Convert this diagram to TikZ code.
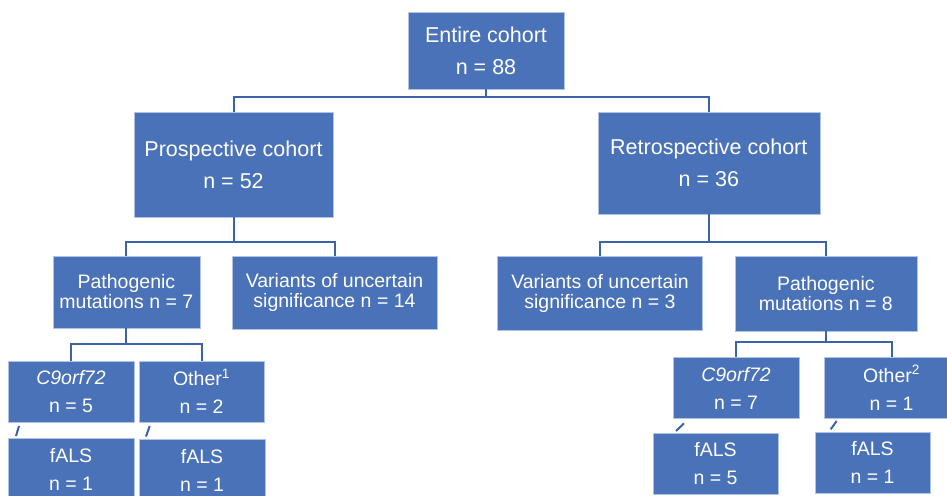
\documentclass[tikz,border=0pt]{standalone}
\usepackage{fontspec}
\setmainfont{Liberation Sans}
\definecolor{boxblue}{RGB}{74,114,184}
\definecolor{lineblue}{RGB}{60,98,168}
\definecolor{edgeblue}{RGB}{175,195,228}
\tikzset{
  anybox/.style={rectangle, fill=boxblue, draw=edgeblue, line width=0.6pt, text=white, align=center, inner sep=0pt},
  bigbox/.style={anybox, font=\fontsize{21.5}{32}\selectfont},
  midbox/.style={anybox, font=\fontsize{19.5}{20}\selectfont},
  smallbox/.style={anybox, font=\fontsize{19.5}{28}\selectfont},
  conn/.style={draw=lineblue, line width=2pt},
}
\begin{document}
\begin{tikzpicture}[x=1pt,y=-1pt]
\useasboundingbox (0,0) rectangle (947,495);
\begin{scope}
\clip (0,0) rectangle (947,495);
% level 0
\node[bigbox, minimum width=156pt, minimum height=77pt] (entire) at (486,50.5) {Entire cohort\\n = 88};
% level 1
\node[bigbox, minimum width=199pt, minimum height=105pt] (prosp) at (233.5,164.5) {Prospective cohort\\n = 52};
\node[bigbox, minimum width=222pt, minimum height=102pt] (retro) at (708.8,163) {Retrospective cohort\\n = 36};
% level 2
\node[midbox, minimum width=147pt, minimum height=72pt] (pathL) at (126.4,292) {Pathogenic\\mutations n = 7};
\node[midbox, minimum width=205pt, minimum height=73pt] (vusL) at (334.5,292.5) {Variants of uncertain\\significance n = 14};
\node[midbox, minimum width=205pt, minimum height=74pt] (vusR) at (600,293) {Variants of uncertain\\significance n = 3};
\node[midbox, minimum width=182pt, minimum height=75pt] (pathR) at (825.8,293.5) {Pathogenic\\mutations n = 8};
% level 3
\node[smallbox, minimum width=126pt, minimum height=61pt] (c9L) at (71,391.5) {\itshape C9orf72\\n = 5};
\node[smallbox, minimum width=125pt, minimum height=61pt] (othL) at (201.5,391.5) {Other\textsuperscript{1}\\n = 2};
\node[smallbox, minimum width=126pt, minimum height=61pt] (c9R) at (736,388) {\itshape C9orf72\\n = 7};
\node[smallbox, minimum width=135pt, minimum height=61pt] (othR) at (891.5,387.5) {Other\textsuperscript{2}\\n = 1};
% level 4
\node[smallbox, minimum width=126pt, minimum height=62pt] (falsL1) at (71,469) {fALS\\n = 1};
\node[smallbox, minimum width=126pt, minimum height=62pt] (falsL2) at (202,470) {fALS\\n = 1};
\node[smallbox, minimum width=125pt, minimum height=61pt] (falsR1) at (715.5,463.5) {fALS\\n = 5};
\node[smallbox, minimum width=115pt, minimum height=61pt] (falsR2) at (872.5,462.5) {fALS\\n = 1};
% junctions
\coordinate (j0) at (486,97);
\coordinate (j1) at (233.5,241.7);
\coordinate (j2) at (708.8,241.7);
\coordinate (j3) at (126.4,344);
\coordinate (j4) at (825.8,341.7);
\draw[conn] (entire.south) -- (j0) -| (prosp.north);
\draw[conn] (j0) -| (retro.north);
\draw[conn] (prosp.south) -- (j1) -| (pathL.north);
\draw[conn] (j1) -| (vusL.north);
\draw[conn] (retro.south) -- (j2) -| (vusR.north);
\draw[conn] (j2) -| (pathR.north);
\draw[conn] (pathL.south) -- (j3) -| (c9L.north);
\draw[conn] (j3) -| (othL.north);
\draw[conn] (pathR.south) -- (j4) -| (c9R.north);
\draw[conn] (j4) -| (othR.north);
% short stray connector stubs
\coordinate (s1a) at (16,436);   \coordinate (s1b) at (19,426);
\coordinate (s2a) at (146,436.5); \coordinate (s2b) at (149.7,426);
\coordinate (s3a) at (676,431);  \coordinate (s3b) at (684,423.3);
\coordinate (s4a) at (830.7,429.3); \coordinate (s4b) at (836.7,421);
\draw[conn] (s1a) -- (s1b);
\draw[conn] (s2a) -- (s2b);
\draw[conn] (s3a) -- (s3b);
\draw[conn] (s4a) -- (s4b);
\end{scope}
\end{tikzpicture}
\end{document}
